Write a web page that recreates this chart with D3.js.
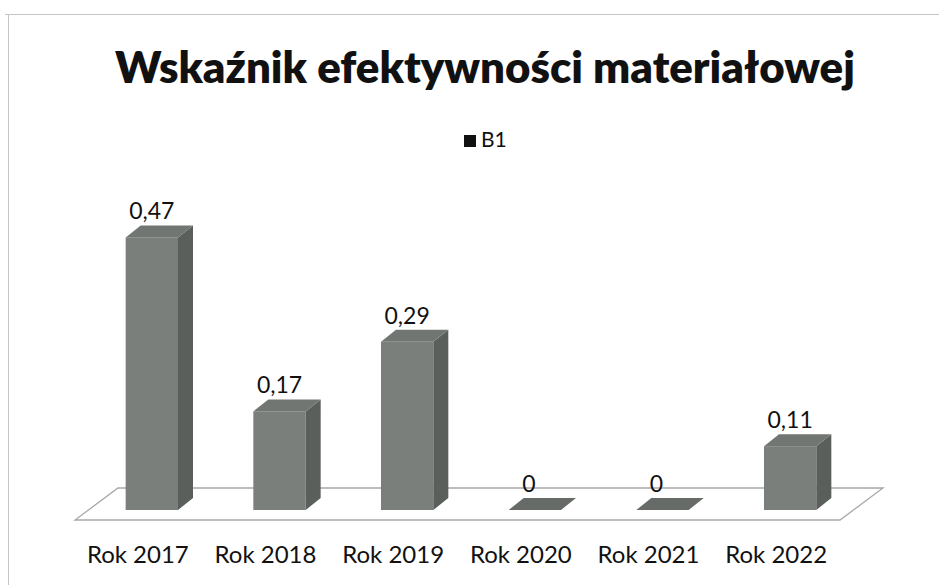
<!DOCTYPE html>
<html>
<head>
<meta charset="utf-8">
<script src="https://cdn.jsdelivr.net/npm/d3@7"></script>
<style>
  body { margin: 0; background: #fff; }
  text { font-family: Lato, "Open Sans", sans-serif; fill: #111; }
</style>
</head>
<body>
<script>
(function() {
  const categories = ['Rok 2017', 'Rok 2018', 'Rok 2019', 'Rok 2020', 'Rok 2021', 'Rok 2022'];
  const values = [0.47, 0.17, 0.29, 0, 0, 0.11];
  const valueLabels = ['0,47', '0,17', '0,29', '0', '0', '0,11'];
  const seriesName = 'B1';
  const title = 'Wskaźnik efektywności materiałowej';

  const width = 939;
  const height = 585;
  const depthX = 15;
  const depthY = -12;

  const svg = d3.select('body').append('svg').attr('width', width).attr('height', height);

  // outer frame (top and left edge of the scanned chart box)
  svg.append('path')
    .attr('d', 'M5,14.5H939M8.5,14.5V585')
    .attr('stroke', '#c4c4c4')
    .attr('fill', 'none');

  const xScale = d3.scaleBand()
    .range([88, 854])
    .paddingInner(0.59)
    .paddingOuter(0.295)
    .domain(categories);

  const yScale = d3.scaleLinear()
    .domain([0, 0.5])
    .range([510, 220]);

  // floor
  const y0 = yScale(0);
  const fl = xScale.range()[0] - 13;
  const fr = xScale.range()[1] - 14;
  svg.append('path')
    .attr('d', 'M' + fl + ',' + (y0 + 10) + 'L' + fr + ',' + (y0 + 10) +
      'L' + (fr + 43) + ',' + (y0 - 22) + 'L' + (fl + 43) + ',' + (y0 - 22) + 'Z')
    .attr('fill', '#fff')
    .attr('stroke', '#a8a8a8')
    .attr('stroke-width', 1.3);

  const bw = xScale.bandwidth();
  const bars = svg.append('g')
    .selectAll('g')
    .data(values)
    .enter()
    .append('g');

  // front face
  bars.append('rect')
    .attr('x', function(d, i) { return xScale(categories[i]); })
    .attr('y', function(d) { return yScale(d); })
    .attr('width', bw)
    .attr('height', function(d) { return y0 - yScale(d); })
    .attr('fill', '#7a7f7c');

  // side face
  bars.append('path')
    .attr('d', function(d, i) {
      const x1 = xScale(categories[i]) + bw;
      const yt = yScale(d);
      return 'M' + x1 + ',' + yt + 'L' + (x1 + depthX) + ',' + (yt + depthY) +
        'L' + (x1 + depthX) + ',' + (y0 + depthY) + 'L' + x1 + ',' + y0 + 'Z';
    })
    .attr('fill', '#5a5f5c');

  // top face
  bars.append('path')
    .attr('d', function(d, i) {
      const x0 = xScale(categories[i]);
      const yt = yScale(d);
      return 'M' + x0 + ',' + yt + 'L' + (x0 + bw) + ',' + yt +
        'L' + (x0 + bw + depthX) + ',' + (yt + depthY) + 'L' + (x0 + depthX) + ',' + (yt + depthY) + 'Z';
    })
    .attr('fill', function(d) { return d === 0 ? '#666b68' : '#717673'; });

  // value labels
  svg.append('g')
    .selectAll('text')
    .data(values)
    .enter()
    .append('text')
    .attr('x', function(d, i) { return xScale(categories[i]) + bw / 2 + (d === 0 ? -6 : 0); })
    .attr('y', function(d) { return yScale(d) + depthY - 6; })
    .attr('text-anchor', 'middle')
    .attr('font-size', 23)
    .text(function(d, i) { return valueLabels[i]; });

  // category labels
  svg.append('g')
    .selectAll('text')
    .data(categories)
    .enter()
    .append('text')
    .attr('x', function(d) { return xScale(d) + bw / 2 - 14; })
    .attr('y', 563)
    .attr('text-anchor', 'middle')
    .attr('font-size', 24)
    .text(function(d) { return d; });

  // legend
  svg.append('rect')
    .attr('x', 464).attr('y', 135).attr('width', 12).attr('height', 12)
    .attr('fill', '#111');
  svg.append('text')
    .attr('x', 481).attr('y', 147)
    .attr('font-size', 21)
    .text(seriesName);

  // title, sized to span the same width as in the chart
  const t = svg.append('text')
    .attr('x', 485).attr('y', 83)
    .attr('text-anchor', 'middle')
    .attr('font-weight', 800)
    .attr('font-size', 46)
    .text(title);
  const w = t.node().getComputedTextLength();
  t.attr('font-size', 46 * 740 / w);
})();
</script>
</body>
</html>
